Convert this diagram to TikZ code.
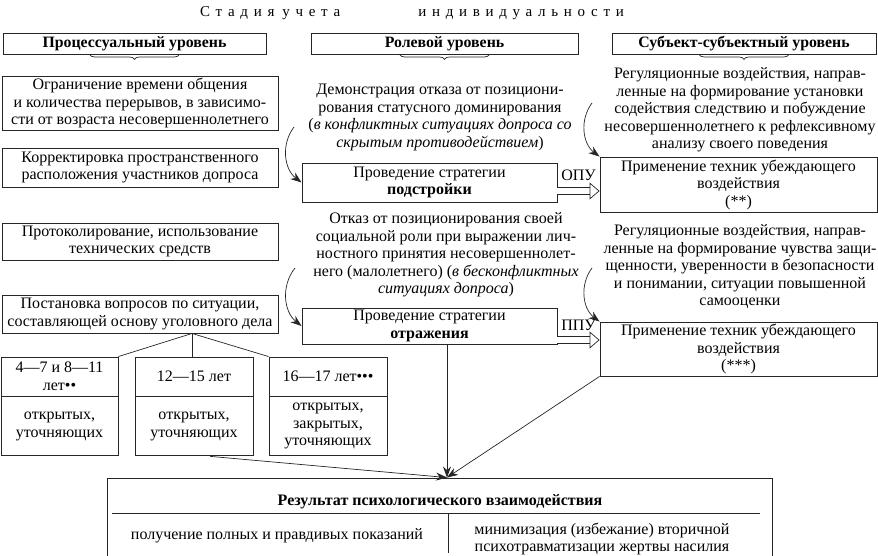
\documentclass[tikz,border=0pt]{standalone}
\usepackage{fontspec}
\setmainfont{Liberation Serif}
\usetikzlibrary{arrows.meta,positioning,decorations.pathreplacing}

\begin{document}
\begin{tikzpicture}[x=1pt,y=-1pt,
		font=\fontsize{16}{17.5}\selectfont,
		>=Stealth,
		box/.style={draw=black!85, line width=0.9pt, align=center, inner sep=1pt},
		hdrbox/.style={box, font=\fontsize{15.8}{17.5}\selectfont\bfseries, minimum height=21pt},
		leftbox/.style={box, minimum width=276pt},
		agebox/.style={box, minimum width=118pt},
		stratbox/.style={box, minimum width=255pt},
		persbox/.style={box, minimum width=277pt},
		note/.style={align=center, inner sep=0pt},
		hdrbrace/.style={draw=black!85, line width=0.7pt, decorate, decoration={brace, mirror, amplitude=5pt}},
		arrow/.style={draw=black!85, line width=0.7pt, -{Stealth[length=11pt, width=8pt]}},
		curvearrow/.style={arrow, bend right=45},
		dblarrow/.style={draw=black!85, line width=0.7pt, double, double distance=6pt, -{Triangle[open, length=10pt, width=17pt]}}
		]
		\useasboundingbox (0,0) rectangle (878,556);

		\node[font=\fontsize{15}{16}\selectfont\addfontfeature{LetterSpace=38}] (stage) at (412,13)
		{Стадия\hspace{8pt}учета\hspace{78pt}индивидуальности};

		% column headers
		\node[hdrbox, minimum width=263pt] (hdrproc) at (134.5,43.5) {Процессуальный уровень};
		\node[hdrbox, minimum width=267pt] (hdrrole) at (444.5,43.5) {Ролевой уровень};
		\node[hdrbox, minimum width=264pt] (hdrsubj) at (744,43.5) {Субъект-субъектный уровень};
		\foreach \h in {hdrproc,hdrrole,hdrsubj}
		\draw[hdrbrace] ([xshift=-45pt]\h.south) -- ([xshift=45pt]\h.south);

		% procedural level
		\node[leftbox, minimum height=54pt] (lim) at (140,103) {Ограничение времени общения\\и количества перерывов, в зависимо-\\сти от возраста несовершеннолетнего};
		\node[leftbox, minimum height=39pt] (corr) at (140,167.5) {Корректировка пространственного\\расположения участников допроса};
		\node[leftbox, minimum height=37pt] (prot) at (140,241.5) {Протоколирование, использование\\технических средств};
		\node[leftbox, minimum height=38pt] (quest) at (140,314) {Постановка вопросов по ситуации,\\составляющей основу уголовного дела};

		\node[agebox, minimum width=117pt, minimum height=39pt] (ageA) at (59.5,376.5) {4—7 и 8—11\\лет••};
		\node[agebox, minimum height=39pt] (ageB) at (194,376.5) {12—15 лет};
		\node[agebox, minimum height=39pt] (ageC) at (328,376.5) {16—17 лет•••};
		\node[agebox, minimum width=117pt, minimum height=59pt, below=0pt of ageA] (qA) {открытых,\\уточняющих};
		\node[agebox, minimum height=59pt, below=0pt of ageB] (qB) {открытых,\\уточняющих};
		\node[agebox, minimum height=59pt, below=0pt of ageC] (qC) {открытых,\\закрытых,\\уточняющих};

		\coordinate (fork) at ([xshift=52pt]quest.south);
		\draw[draw=black!85, line width=0.7pt] (fork) -- (ageA.north east);
		\draw[draw=black!85, line width=0.7pt] (fork) -- (fork |- ageB.north);
		\draw[draw=black!85, line width=0.7pt] (fork) -- (ageC.north west);

		% role level
		\node[note] (demo) at (440,117.5) {Демонстрация отказа от позициони-\\рования статусного доминирования\\(\textit{в конфликтных ситуациях допроса со}\\\textit{скрытым противодействием})};
		\node[stratbox, minimum height=39pt] (adj) at (429.5,182.5) {Проведение стратегии\\\textbf{подстройки}};
		\node[note] (refuse) at (446,255) {Отказ от позиционирования своей\\социальной роли при выражении лич-\\ностного принятия несовершеннолет-\\него (малолетнего) (\textit{в бесконфликтных}\\\textit{ситуациях допроса})};
		\node[stratbox, minimum height=36pt] (refl) at (429.5,326) {Проведение стратегии\\\textbf{отражения}};

		% subject-subject level
		\node[note] (reg1) at (740,110) {Регуляционные воздействия, направ-\\ленные на формирование установки\\содействия следствию и побуждение\\несовершеннолетнего к рефлексивному\\анализу своего поведения};
		\node[persbox, minimum height=55pt] (pers1) at (738.5,184.5) {Применение техник убеждающего\\воздействия\\(**)};
		\node[note] (reg2) at (740,267) {Регуляционные воздействия, направ-\\ленные на формирование чувства защи-\\щенности, уверенности в безопасности\\и понимании, ситуации повышенной\\самооценки};
		\node[persbox, minimum height=54pt] (pers2) at (738.5,349) {Применение техник убеждающего\\воздействия\\(***)};

		% result
		\node[box, minimum width=665pt, minimum height=78pt] (res) at (439.5,517) {};
		\node[note, font=\fontsize{16}{17.5}\selectfont\bfseries] (restitle) at (440,502) {Результат психологического взаимодействия};
		\node[note] (resleft) at (277,536) {получение полных и правдивых показаний};
		\node[note] (resright) at (602,539) {минимизация (избежание) вторичной\\психотравматизации жертвы насилия};
		\draw[draw=black!85, line width=0.7pt] ([xshift=5pt]res.west |- 0,513) -- ([xshift=-12pt]res.east |- 0,513);
		\draw[draw=black!85, line width=0.7pt] (448,513) -- (448,553);

		% connectors
		\coordinate (c1) at (294,127);
		\coordinate (c2) at (295,268);
		\coordinate (c3) at (592,103);
		\coordinate (c4) at (592,268);
		\draw[curvearrow] (c1) to (adj.west);
		\draw[curvearrow] (c2) to (refl.west);
		\draw[curvearrow] (c3) to (pers1.north west);
		\draw[curvearrow] (c4) to (pers2.north west);

		\draw[dblarrow] ([yshift=-8.5pt]adj.east) -- ([yshift=-8.5pt]adj.east -| pers1.west) node[midway, above=7pt] {ОПУ};
		\draw[dblarrow] ([yshift=-14pt]refl.east) -- ([yshift=-14pt]refl.east -| pers2.west) node[midway, above=6pt] {ППУ};

		\coordinate (meet) at ([xshift=7.5pt]res.north);
		\draw[arrow] (refl.south -| meet) -- (meet);
		\draw[arrow] ([xshift=16pt]qB.south) -- (meet);
		\draw[arrow] (pers2.south west) -- (meet);
	\end{tikzpicture}
\end{document}
